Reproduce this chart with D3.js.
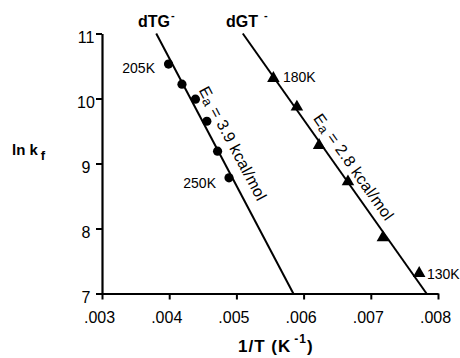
<!DOCTYPE html>
<html><head><meta charset="utf-8">
<script src="https://cdn.jsdelivr.net/npm/d3@7"></script>
<style>
body{margin:0;background:#fff;}
svg{display:block;font-family:"Liberation Sans",Arial,sans-serif;}
</style></head>
<body><svg id="c" width="460" height="358"></svg>
<script>
// Data
const xTicks = [0.003, 0.004, 0.005, 0.006, 0.007, 0.008];
const xTickLabels = [".003", ".004", ".005", ".006", ".007", ".008"];
const yTicks = [7, 8, 9, 10, 11];
const yTickLabels = ["7", "8", "9", "10", "11"];

const tgX = [0.00399, 0.00419, 0.00439, 0.00456, 0.00472, 0.00489];
const tgY = [10.53, 10.22, 9.99, 9.65, 9.19, 8.78];
const gtX = [0.00555, 0.00590, 0.00623, 0.00666, 0.00718, 0.00772];
const gtY = [10.31, 9.87, 9.28, 8.72, 7.86, 7.31];

const tgFitX = [0.003807, 0.005847];
const tgFitY = [11, 7];
const gtFitX = [0.005095, 0.007829];
const gtFitY = [11, 7];

const svg = d3.select("#c");
const x = d3.scaleLinear().domain([0.003, 0.008]).range([102, 438]);
const y = d3.scaleLinear().domain([7, 11]).range([293.5, 33.5]);

// axes
const xAxis = svg.append("g").attr("transform", "translate(0,293.5)")
  .call(d3.axisBottom(x).tickValues(xTicks).tickSize(6).tickSizeOuter(0)
    .tickFormat((d, i) => xTickLabels[i]).tickPadding(12));
const yAxis = svg.append("g").attr("transform", "translate(102,0)")
  .call(d3.axisLeft(y).tickValues(yTicks).tickSize(6).tickSizeOuter(0)
    .tickFormat((d, i) => yTickLabels[i]));
[xAxis, yAxis].forEach(g => {
  g.select(".domain").attr("stroke", "#000").attr("stroke-width", 2.2);
  g.selectAll(".tick line").attr("stroke", "#000").attr("stroke-width", 2);
  g.selectAll(".tick text").attr("font-size", 16).attr("fill", "#000")
    .attr("font-family", "Liberation Sans, Arial, sans-serif");
});
xAxis.selectAll(".tick text").attr("dx", -3);
yAxis.selectAll(".tick text").attr("text-anchor", "middle").attr("x", -16).attr("dy", "0.55em");

// fit lines
const line = d3.line().x(d => x(d[0])).y(d => y(d[1]));
function drawFit(xs, ys) {
  svg.append("path").datum(xs.map((v, i) => [v, ys[i]]))
    .attr("d", line).attr("fill", "none").attr("stroke", "#000").attr("stroke-width", 2);
}
drawFit(tgFitX, tgFitY);
drawFit(gtFitX, gtFitY);

// points
svg.append("g").selectAll("circle").data(tgX.map((v, i) => [v, tgY[i]])).join("circle")
  .attr("cx", d => x(d[0])).attr("cy", d => y(d[1])).attr("r", 4.6).attr("fill", "#000");
svg.append("g").selectAll("path").data(gtX.map((v, i) => [v, gtY[i]])).join("path")
  .attr("d", d3.symbol(d3.symbolTriangle, 68))
  .attr("transform", d => `translate(${x(d[0])},${y(d[1])})`).attr("fill", "#000");

// Ea labels along lines
function eaLabel(xs, ys, footY, off, value) {
  const x0 = x(xs[0]), y0 = y(ys[0]), x1 = x(xs[1]), y1 = y(ys[1]);
  const ang = Math.atan2(y1 - y0, x1 - x0) * 180 / Math.PI;
  const py = y(footY);
  const px = x0 + (py - y0) * (x1 - x0) / (y1 - y0);
  const t = svg.append("text").attr("transform", `translate(${px},${py}) rotate(${ang})`)
    .attr("y", -off).attr("font-size", 16).attr("letter-spacing", 0.3).attr("fill", "#000");
  t.append("tspan").text("E");
  t.append("tspan").attr("font-size", 13).attr("dy", 2).text("a");
  t.append("tspan").attr("dy", -2).text(" = " + value + " kcal/mol");
}
eaLabel(tgFitX, tgFitY, 10.05, 11, "3.9");
eaLabel(gtFitX, gtFitY, 9.62, 8, "2.8");

// point labels
const pl = [["205K", 155, 73, "end"], ["250K", 216, 188, "end"], ["180K", 283, 82, "start"], ["130K", 427, 279, "start"]];
svg.append("g").selectAll("text").data(pl).join("text")
  .attr("x", d => d[1]).attr("y", d => d[2]).attr("text-anchor", d => d[3])
  .attr("font-size", 14).attr("fill", "#000").text(d => d[0]);

// series titles
function title(tx, ty, base, supDx) {
  const t = svg.append("text").attr("x", tx).attr("y", ty).attr("font-size", 16)
    .attr("font-weight", "bold").attr("fill", "#000");
  t.append("tspan").text(base);
  t.append("tspan").attr("dx", supDx).attr("dy", -8).attr("font-size", 11).text("-");
}
title(138, 27, "dTG", 1);
title(226, 27, "dGT", 6);

// axis titles
const yl = svg.append("text").attr("x", 12).attr("y", 155).attr("font-size", 15)
  .attr("font-weight", "bold").attr("fill", "#000");
yl.append("tspan").text("ln k");
yl.append("tspan").attr("dx", 3).attr("dy", 5).attr("font-size", 13).text("f");

const xl = svg.append("text").attr("x", 238).attr("y", 352).attr("font-size", 17)
  .attr("font-weight", "bold").attr("letter-spacing", 1).attr("fill", "#000");
xl.append("tspan").text("1/T (K");
xl.append("tspan").attr("dx", 3).attr("dy", -9).attr("font-size", 12).text("-1");
xl.append("tspan").attr("dy", 9).text(")");
</script></body></html>
